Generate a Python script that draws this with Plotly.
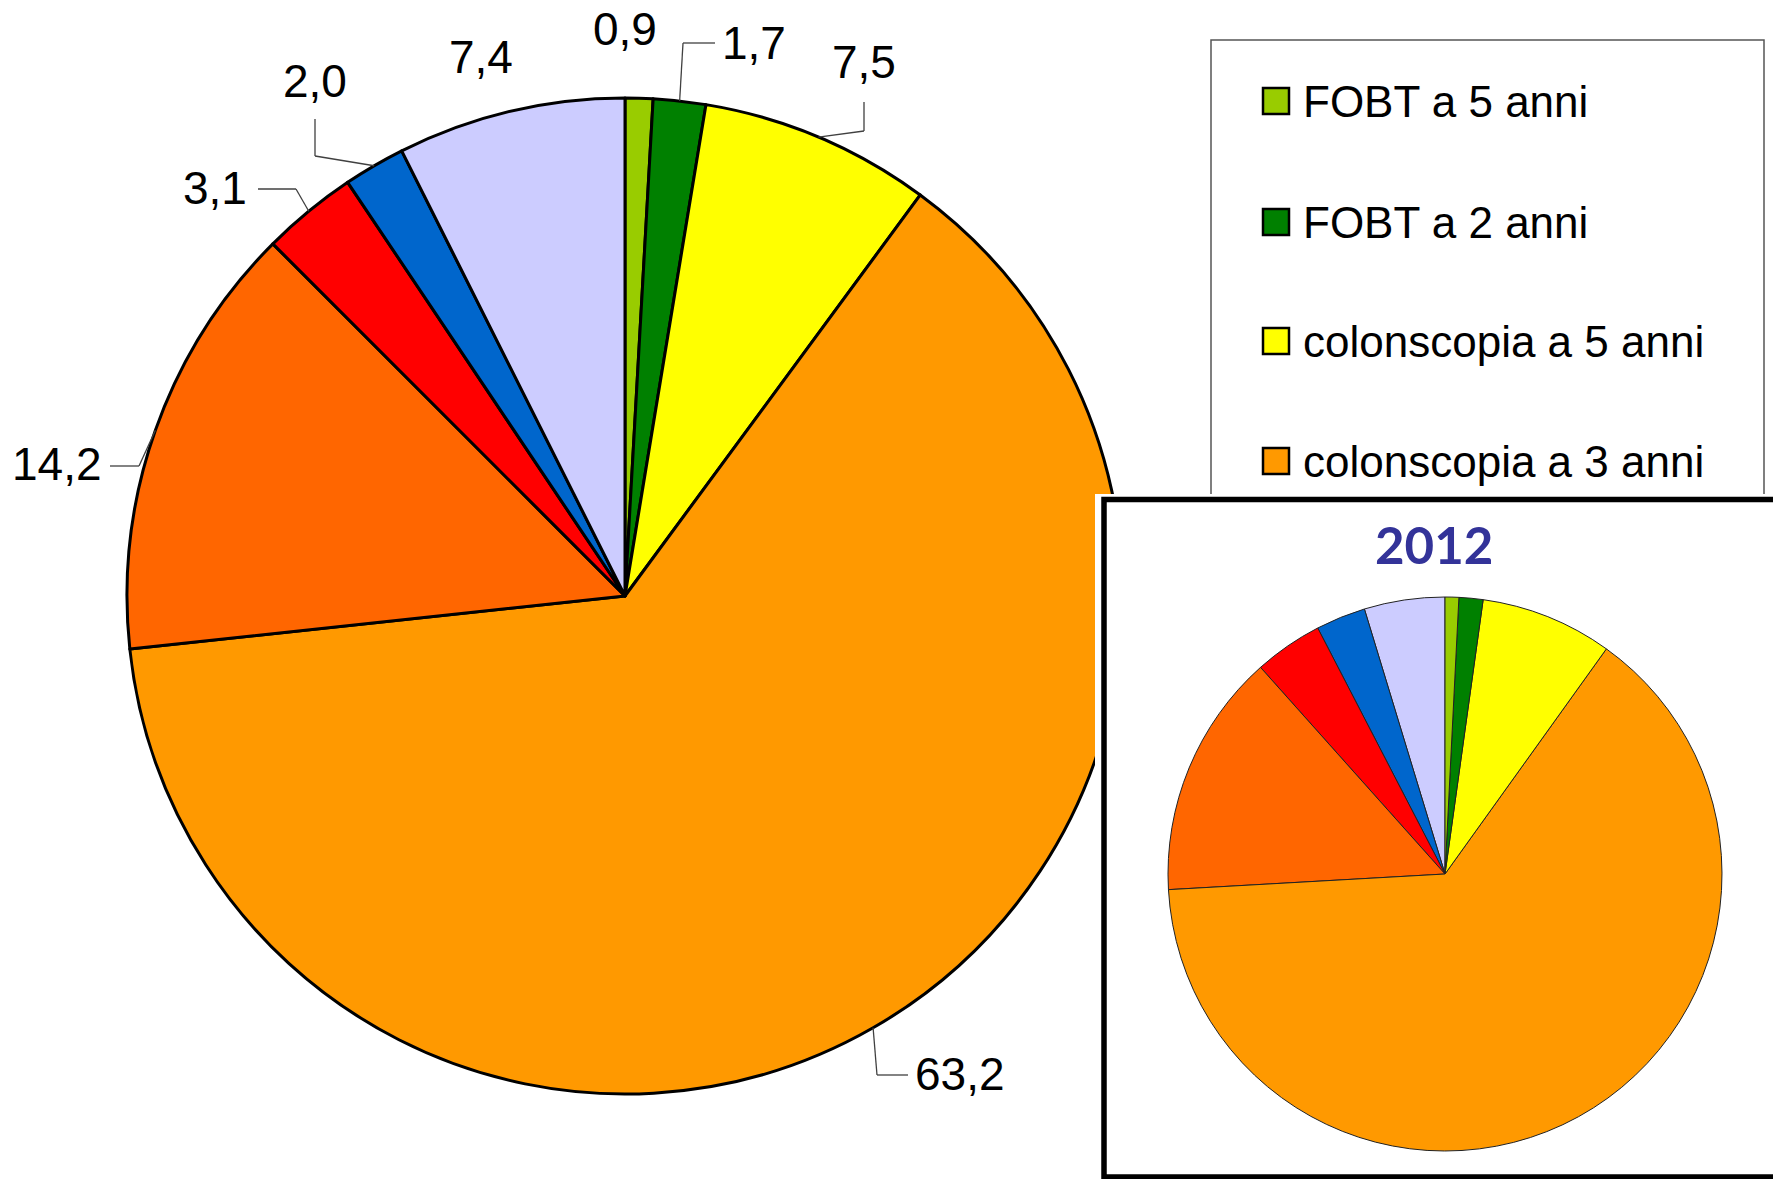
import plotly.graph_objects as go

# Figure size in pixels; everything placed in paper coordinates derived from it
W, H = 1773, 1179

# ---- data ----------------------------------------------------------------
categories = [
    "FOBT a 5 anni",
    "FOBT a 2 anni",
    "colonscopia a 5 anni",
    "colonscopia a 3 anni",
    "colonscopia a 2 anni",
    "colonscopia a 1 anno",
    "colonscopia a 10 anni",
    "altro",
]
values_main = [0.9, 1.7, 7.5, 63.2, 14.2, 3.1, 2.0, 7.4]
values_2012 = [0.8, 1.4, 7.7, 64.2, 14.3, 4.0, 2.9, 4.7]
slice_colors = ["#99CC00", "#008000", "#FFFF00", "#FF9900",
                "#FF6600", "#FF0000", "#0066CC", "#CCCCFF"]
legend_entries = categories[:4]
inset_title = "2012"


def px(x):
    return x / W


def py(y):
    return 1 - y / H


# ---- geometry / style ----------------------------------------------------
MAIN_C = (625, 596)
MAIN_R = 498
INSET_C = (1445, 874)
INSET_R = 277
LABEL_FONT = dict(family="Liberation Sans, Arial, sans-serif", size=46, color="black")
LEGEND_FONT = dict(family="Liberation Sans, Arial, sans-serif", size=44, color="black")

# Label text centre and leader-line points (label side first), in pixels
label_layout = [
    dict(pos=(625, 29), leader=[]),
    dict(pos=(754, 43), leader=[(715, 43), (683, 43)]),
    dict(pos=(864, 62), leader=[(864, 102), (864, 131)]),
    dict(pos=(960, 1074), leader=[(908, 1075), (877, 1075)]),
    dict(pos=(57, 464), leader=[(110, 466), (139, 466)]),
    dict(pos=(215, 188), leader=[(258, 189), (296, 189)]),
    dict(pos=(315, 81), leader=[(315, 119), (315, 156)]),
    dict(pos=(481, 57), leader=[]),
]

fig = go.Figure()

# Main pie
fig.add_trace(go.Pie(
    labels=categories,
    values=values_main,
    sort=False,
    direction="clockwise",
    rotation=0,
    marker=dict(colors=slice_colors, line=dict(color="black", width=3)),
    textinfo="none",
    hoverinfo="label+value",
    domain=dict(x=[px(MAIN_C[0] - MAIN_R), px(MAIN_C[0] + MAIN_R)],
                y=[py(MAIN_C[1] + MAIN_R), py(MAIN_C[1] - MAIN_R)]),
    showlegend=False,
))

# White panel behind the 2012 inset (treemap layer sits above the pie layer)
fig.add_trace(go.Treemap(
    ids=["panel"], labels=["panel"], parents=[""], values=[1],
    marker=dict(colors=["white"], line=dict(width=0)),
    root=dict(color="white"),
    pathbar=dict(visible=False),
    textinfo="none",
    hoverinfo="skip",
    domain=dict(x=[px(1095), 1], y=[0, py(494)]),
))

# 2012 inset pie (sunburst layer sits above the treemap layer);
# slices listed in reverse so they run clockwise from 12 o'clock
fig.add_trace(go.Sunburst(
    ids=categories[::-1],
    labels=categories[::-1],
    parents=[""] * len(categories),
    values=values_2012[::-1],
    sort=False,
    rotation=90,
    marker=dict(colors=slice_colors[::-1], line=dict(color="#222222", width=1)),
    leaf=dict(opacity=1),
    textinfo="none",
    hoverinfo="label+value",
    domain=dict(x=[px(INSET_C[0] - INSET_R), px(INSET_C[0] + INSET_R)],
                y=[py(INSET_C[1] + INSET_R), py(INSET_C[1] - INSET_R)]),
))

shapes = []
annotations = []

# Legend frame (its lower part disappears behind the inset panel)
shapes.append(dict(type="rect", xref="paper", yref="paper", layer="below",
                   x0=px(1211), x1=px(1764), y0=py(700), y1=py(40),
                   line=dict(color="#555555", width=1.5), fillcolor="white"))

legend_rows = [101, 222, 341, 461]
for name, color, yc in zip(legend_entries, slice_colors, legend_rows):
    shapes.append(dict(type="rect", xref="paper", yref="paper", layer="above",
                       x0=px(1263), x1=px(1289), y0=py(yc + 13), y1=py(yc - 13),
                       fillcolor=color, line=dict(color="black", width=2.5)))
    annotations.append(dict(x=px(1301), y=py(yc), xref="paper", yref="paper",
                            text=name, showarrow=False, xanchor="left",
                            yanchor="middle", font=LEGEND_FONT))

# Data labels with leader lines anchored at each slice's mid-angle
import math
cum = 0.0
total = sum(values_main)
for v, lay in zip(values_main, label_layout):
    mid = (cum + v / 2) / total * 2 * math.pi
    cum += v
    anchor = (MAIN_C[0] + MAIN_R * math.sin(mid), MAIN_C[1] - MAIN_R * math.cos(mid))
    txt = f"{v:.1f}".replace(".", ",")
    annotations.append(dict(x=px(lay["pos"][0]), y=py(lay["pos"][1]),
                            xref="paper", yref="paper", text=txt,
                            showarrow=False, xanchor="center", yanchor="middle",
                            font=LABEL_FONT))
    if lay["leader"]:
        pts = lay["leader"] + [anchor]
        for (x0, y0), (x1, y1) in zip(pts[:-1], pts[1:]):
            shapes.append(dict(type="line", xref="paper", yref="paper",
                               layer="above",
                               x0=px(x0), y0=py(y0), x1=px(x1), y1=py(y1),
                               line=dict(color="#404040", width=1.3)))

# Inset frame
shapes.append(dict(type="rect", xref="paper", yref="paper", layer="above",
                   x0=px(1104), x1=px(1790), y0=py(1177), y1=py(499.5),
                   line=dict(color="black", width=5.5)))

annotations.append(dict(x=px(1434), y=py(544), xref="paper", yref="paper",
                        text=inset_title, showarrow=False,
                        xanchor="center", yanchor="middle",
                        font=dict(family="Lato, Open Sans, sans-serif", size=51,
                                  color="#333399", weight="bold")))

fig.update_layout(
    width=W, height=H,
    margin=dict(l=0, r=0, t=0, b=0),
    paper_bgcolor="white",
    plot_bgcolor="white",
    showlegend=False,
    shapes=shapes,
    annotations=annotations,
)

fig.write_html("out.html")
